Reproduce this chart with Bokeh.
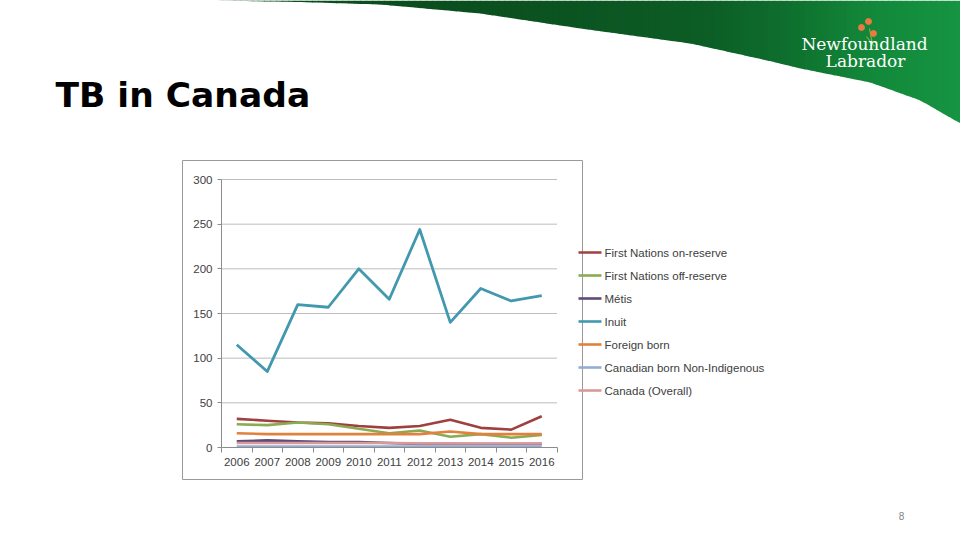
from bokeh.plotting import figure
from bokeh.models import Range1d, LinearAxis, FixedTicker
from bokeh.core.properties import value
from bokeh.embed import file_html
from bokeh.resources import INLINE

# ---------------- data ----------------
years = [2006, 2007, 2008, 2009, 2010, 2011, 2012, 2013, 2014, 2015, 2016]
first_nations_on = [32, 30, 28, 27, 24, 22, 24, 31, 22, 20, 35]
first_nations_off = [26, 25, 28, 26, 21, 16, 19, 12, 15, 11, 14]
metis = [7, 8, 7, 6, 6, 5, 4, 4, 4, 4, 4]
inuit = [115, 85, 160, 157, 200, 166, 244, 140, 178, 164, 170]
foreign_born = [16, 15, 15, 15, 15, 15, 15, 18, 15, 15, 15]
canadian_born = [1, 1, 1, 1, 1, 1, 1, 1, 1, 1, 1]
canada_overall = [5, 5, 5, 5, 5, 5, 4.6, 4.6, 4.5, 4.5, 4.6]

series_names = ["First Nations on-reserve", "First Nations off-reserve", "Métis", "Inuit",
                "Foreign born", "Canadian born Non-Indigenous", "Canada (Overall)"]
series_values = [first_nations_on, first_nations_off, metis, inuit,
                 foreign_born, canadian_born, canada_overall]
series_colors = ["#A0403E", "#8BAA52", "#5E4B7B", "#4298AE", "#E0823E", "#93ADD4", "#DA9999"]

y_ticks = [0, 50, 100, 150, 200, 250, 300]
title_text = "TB in Canada"
logo_lines = ["Newfoundland", "Labrador"]
page_number = "8"

# ---------------- figure (frame = whole slide, pixel-like default ranges) ----------------
p = figure(width=960, height=540, x_range=Range1d(0, 960), y_range=Range1d(540, 0),
           x_axis_type=None, y_axis_type=None, toolbar_location=None,
           output_backend="svg", min_border=0, outline_line_color=None,
           background_fill_color="white", border_fill_color="white")

# chart scales (Excel category axis: 30.5 px per year, value axis 268 px per 300)
px_year = 30.5
left_px = 221.0
p.extra_x_ranges = {"yr": Range1d(2005.5 - left_px / px_year, 2005.5 + (960 - left_px) / px_year)}
px_val = 268.0 / 300.0
p.extra_y_ranges = {"val": Range1d(-(540 - 447) / px_val, 300 + 179 / px_val)}

# ---------------- slide decoration: green swoosh (strips with a left-to-right gradient) ----------------
edge_x = [210, 300, 380, 480, 580, 690, 767, 800, 870, 920, 960]
edge_y = [0, 1.5, 4, 13, 28, 43, 60, 68, 82, 100, 123]
stops_x = [210, 500, 700, 790, 870, 960]
stops_c = [(10, 74, 28), (11, 80, 31), (12, 92, 37), (14, 112, 46), (18, 136, 58), (22, 148, 66)]


def edge_at(x):
    for i in range(len(edge_x) - 1):
        if edge_x[i] <= x <= edge_x[i + 1]:
            t = (x - edge_x[i]) / (edge_x[i + 1] - edge_x[i])
            return edge_y[i] + t * (edge_y[i + 1] - edge_y[i])
    return edge_y[-1]


def color_at(x):
    for i in range(len(stops_x) - 1):
        if stops_x[i] <= x <= stops_x[i + 1]:
            t = (x - stops_x[i]) / (stops_x[i + 1] - stops_x[i])
            c = [round(a + t * (b - a)) for a, b in zip(stops_c[i], stops_c[i + 1])]
            return "#%02x%02x%02x" % tuple(c)
    return "#%02x%02x%02x" % stops_c[-1]


step = 6
xs_list, ys_list, cols = [], [], []
x = 210
while x < 960:
    x2 = min(x + step, 960)
    xs_list.append([x, x2 + 0.6, x2 + 0.6, x])
    ys_list.append([0, 0, edge_at(min(x2 + 0.6, 960)), edge_at(x)])
    cols.append(color_at((x + x2) / 2))
    x = x2
p.patches(xs_list, ys_list, fill_color=cols, line_color=None)

# logo
p.segment(x0=[866, 869], x1=[874, 872], y0=[36, 28], y1=[46, 44], line_color="#7DB247",
          line_width=1.2)
p.scatter([861, 868, 873], [27, 21, 33], size=6, color="#EC7A3E", marker="circle")
p.text([864], [43], text=[logo_lines[0]], text_align="center", text_baseline="middle",
       text_font=value("DejaVu Serif"), text_font_size="17px", text_color="white")
p.text([865], [60], text=[logo_lines[1]], text_align="center", text_baseline="middle",
       text_font=value("DejaVu Serif"), text_font_size="17px", text_color="white")

# title
p.text([55], [94], text=[title_text], text_align="left", text_baseline="middle",
       text_font=value("DejaVu Sans"), text_font_style="bold", text_font_size="34.5px",
       text_color="black")

# page number
p.text([901], [515], text=[page_number], text_align="center", text_baseline="middle",
       text_font=value("Liberation Sans"), text_font_size="10px", text_color="#7F7F7F")

# chart border
p.quad(left=[182], right=[582], top=[160], bottom=[479], fill_color=None,
       line_color="#9A9A9A", line_width=1)

# ---------------- chart ----------------
grid_vals = [t for t in y_ticks if t > 0]
p.segment(x0=[years[0] - 0.5] * len(grid_vals), x1=[years[-1] + 0.5] * len(grid_vals),
          y0=grid_vals, y1=grid_vals, line_color="#BDBDBD", line_width=1,
          x_range_name="yr", y_range_name="val")

for name, vals, col in zip(series_names, series_values, series_colors):
    p.line(years, vals, line_color=col, line_width=2.6 if name != "Inuit" else 2.8,
           x_range_name="yr", y_range_name="val", line_join="round")

yaxis = LinearAxis(x_range_name="yr", y_range_name="val", fixed_location=years[0] - 0.5,
                   ticker=FixedTicker(ticks=y_ticks), bounds=(y_ticks[0], y_ticks[-1]))
yaxis.axis_line_color = "#8C8C8C"
yaxis.major_tick_line_color = "#8C8C8C"
yaxis.major_tick_out = 4
yaxis.major_tick_in = 0
yaxis.minor_tick_out = 0
yaxis.major_label_standoff = 5
yaxis.major_label_text_font = "Liberation Sans"
yaxis.major_label_text_font_size = "11.5px"
yaxis.major_label_text_color = "#404040"
p.add_layout(yaxis, "left")

boundaries = [y - 0.5 for y in years] + [years[-1] + 0.5]
xaxis = LinearAxis(x_range_name="yr", y_range_name="val", fixed_location=0,
                   ticker=FixedTicker(ticks=years, minor_ticks=boundaries),
                   bounds=(boundaries[0], boundaries[-1]))
xaxis.axis_line_color = "#8C8C8C"
xaxis.major_tick_out = 0
xaxis.major_tick_in = 0
xaxis.minor_tick_out = 5
xaxis.minor_tick_in = 0
xaxis.minor_tick_line_color = "#8C8C8C"
xaxis.major_label_standoff = 5
xaxis.major_label_text_font = "Liberation Sans"
xaxis.major_label_text_font_size = "11.5px"
xaxis.major_label_text_color = "#404040"
p.add_layout(xaxis, "below")

# legend (manual, in slide pixels)
for i, (name, col) in enumerate(zip(series_names, series_colors)):
    ly = 252 + 23 * i
    p.segment(x0=[578], x1=[601], y0=[ly], y1=[ly], line_color=col, line_width=2.6)
    p.text([604], [ly], text=[name], text_align="left", text_baseline="middle",
           text_font=value("Liberation Sans"), text_font_size="11.5px", text_color="#404040")

open("out.html", "w").write(file_html(p, INLINE))
